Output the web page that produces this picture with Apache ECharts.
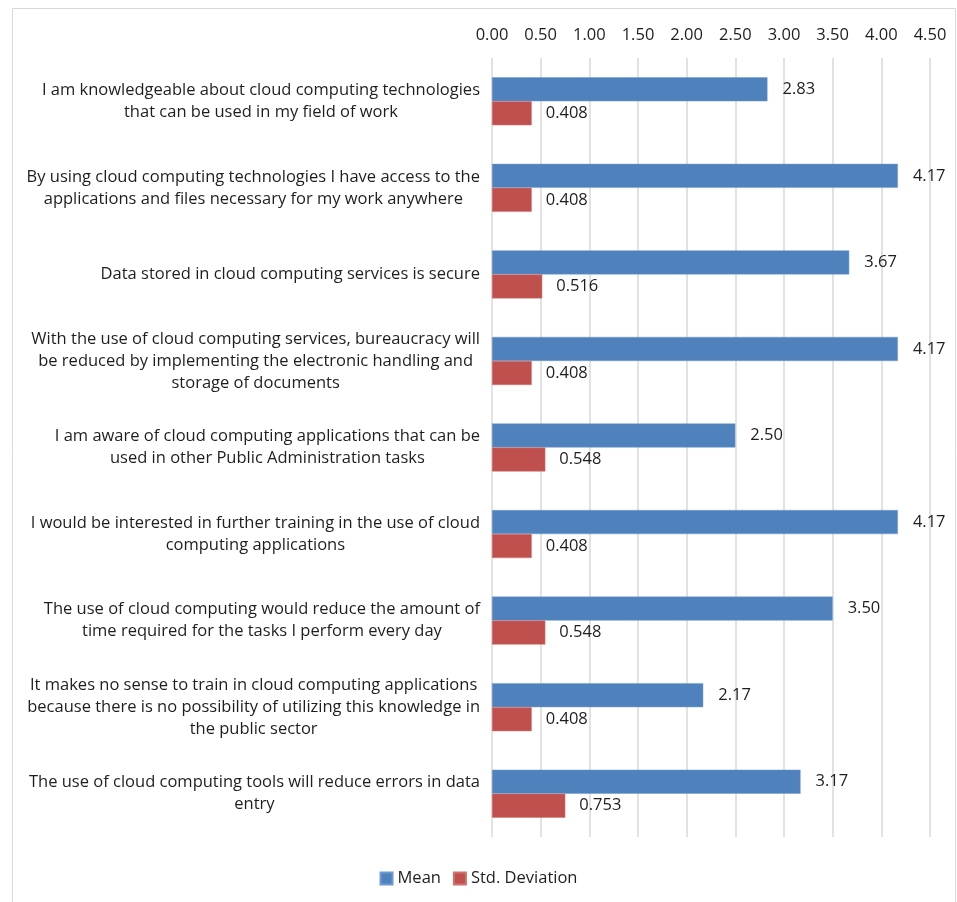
<!DOCTYPE html>
<html>
<head>
<meta charset="utf-8">
<script src="https://cdn.jsdelivr.net/npm/echarts@6/dist/echarts.min.js"></script>
<style>
  html, body { margin: 0; padding: 0; background: #fff; }
  #chart { width: 957px; height: 902px; }
</style>
</head>
<body>
<div id="chart"></div>
<script>
// statements, top to bottom as in the figure
const categories = [
  'I am knowledgeable about cloud computing technologies\nthat can be used in my field of work',
  'By using cloud computing technologies I have access to the\napplications and files necessary for my work anywhere',
  'Data stored in cloud computing services is secure',
  'With the use of cloud computing services, bureaucracy will\nbe reduced by implementing the electronic handling and\nstorage of documents',
  'I am aware of cloud computing applications that can be\nused in other Public Administration tasks',
  'I would be interested in further training in the use of cloud\ncomputing applications',
  'The use of cloud computing would reduce the amount of\ntime required for the tasks I perform every day',
  'It makes no sense to train in cloud computing applications\nbecause there is no possibility of utilizing this knowledge in\nthe public sector',
  'The use of cloud computing tools will reduce errors in data\nentry'
];
const meanValues = [2.83, 4.17, 3.67, 4.17, 2.50, 4.17, 3.50, 2.17, 3.17];
const stdValues = [0.408, 0.408, 0.516, 0.408, 0.548, 0.408, 0.548, 0.408, 0.753];
const seriesNames = ['Mean', 'Std. Deviation'];

const font = '"Open Sans", "Noto Sans", sans-serif';
const fs = 16.5;
let chart = echarts.init(document.getElementById('chart'));
let option = {
  animation: false,
  textStyle: { fontFamily: font },
  graphic: [{
    type: 'rect',
    shape: { x: 12.5, y: 8.5, width: 943, height: 900 },
    style: { fill: 'none', stroke: '#d9d9d9', lineWidth: 1 },
    silent: true
  }],
  legend: {
    bottom: 10,
    left: 'center',
    itemWidth: 12,
    itemHeight: 12,
    itemGap: 12,
    icon: 'rect',
    textStyle: { fontSize: fs, color: '#1e1e1e', fontFamily: font },
    data: seriesNames
  },
  grid: { left: 492, right: 27, top: 58, bottom: 65 },
  xAxis: {
    type: 'value',
    position: 'top',
    min: 0,
    max: 4.5,
    interval: 0.5,
    axisLine: { show: false },
    axisTick: { show: false },
    axisLabel: {
      fontSize: fs,
      color: '#1e1e1e',
      margin: 14,
      formatter: v => v.toFixed(2)
    },
    splitLine: { lineStyle: { color: '#d9d9d9', width: 1.5 } }
  },
  yAxis: {
    type: 'category',
    inverse: true,
    data: categories,
    axisLine: { show: false },
    axisTick: { show: false },
    axisLabel: {
      margin: 12,
      formatter: v => v.split('\n').map(s => '{a|' + s + '}').join('\n'),
      rich: {
        a: { align: 'center', fontSize: fs, lineHeight: 22, color: '#1e1e1e', fontFamily: font }
      }
    }
  },
  series: [
    {
      name: seriesNames[0],
      type: 'bar',
      data: meanValues,
      barWidth: 24,
      barGap: '0%',
      itemStyle: { color: '#4F81BD', borderColor: '#6f9bd1', borderWidth: 0.5 },
      label: {
        show: true,
        position: 'right',
        distance: 15,
        fontSize: fs,
        color: '#1e1e1e',
        formatter: p => p.value.toFixed(2)
      }
    },
    {
      name: seriesNames[1],
      type: 'bar',
      data: stdValues,
      barWidth: 24,
      barGap: '0%',
      itemStyle: { color: '#C0504D', borderColor: '#d07270', borderWidth: 0.5 },
      label: {
        show: true,
        position: 'right',
        distance: 14,
        fontSize: fs,
        color: '#1e1e1e',
        formatter: p => p.value.toFixed(3)
      }
    }
  ]
};
chart.setOption(option);
</script>
</body>
</html>
